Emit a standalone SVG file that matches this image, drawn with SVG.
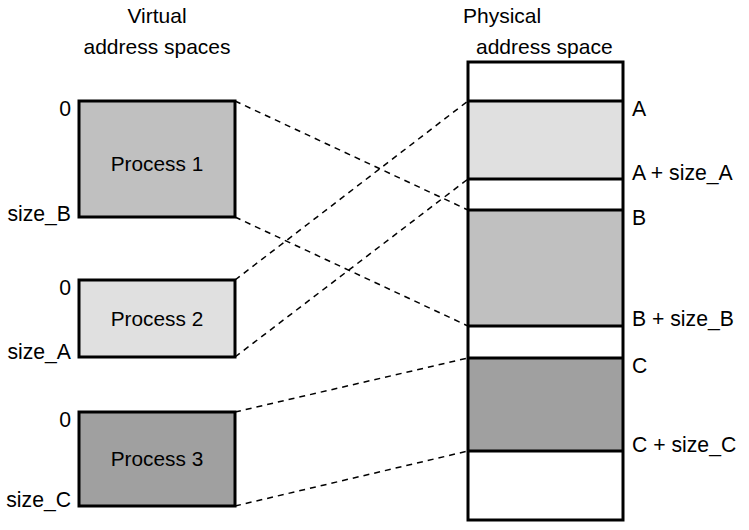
<svg xmlns="http://www.w3.org/2000/svg" width="749" height="530" viewBox="0 0 749 530">
<style>
text{font-family:"Liberation Sans",Arial,sans-serif;fill:#000}
.t{font-size:21px}
.p{font-size:20.8px;text-anchor:middle}
.l{font-size:21.2px}
.r{text-anchor:end}
.box{stroke:#000;stroke-width:3}
.dash{stroke:#000;stroke-width:1.5;stroke-dasharray:6 5;fill:none}
.sep{stroke:#000;stroke-width:3}
</style>
<rect width="749" height="530" fill="#fff"/>
<g id="titles">
<text class="t" x="157" y="23" text-anchor="middle">Virtual</text>
<text class="t" x="157" y="54" text-anchor="middle">address spaces</text>
<text class="t" x="463" y="23">Physical</text>
<text class="t" x="476" y="54">address space</text>
</g>
<g id="connectors">
<line class="dash" x1="235" y1="101" x2="468" y2="210"/>
<line class="dash" x1="235" y1="217" x2="468" y2="326"/>
<line class="dash" x1="235" y1="280" x2="468" y2="101"/>
<line class="dash" x1="235" y1="357" x2="468" y2="179"/>
<line class="dash" x1="235" y1="412" x2="468" y2="358"/>
<line class="dash" x1="235" y1="506" x2="468" y2="451"/>
</g>
<g id="process1">
<rect class="box" x="79" y="101" width="156" height="116" fill="#c0c0c0"/>
<text class="p" x="157" y="171">Process 1</text>
<text class="l r" x="71" y="116">0</text>
<text class="l r" x="71" y="221">size_B</text>
</g>
<g id="process2">
<rect class="box" x="79" y="280" width="156" height="77" fill="#e0e0e0"/>
<text class="p" x="157" y="326">Process 2</text>
<text class="l r" x="71" y="295">0</text>
<text class="l r" x="71" y="359">size_A</text>
</g>
<g id="process3">
<rect class="box" x="79" y="412" width="156" height="94" fill="#a0a0a0"/>
<text class="p" x="157" y="466">Process 3</text>
<text class="l r" x="71" y="427">0</text>
<text class="l r" x="71" y="507">size_C</text>
</g>
<g id="physical">
<rect x="468" y="62" width="155" height="458" fill="#fff"/>
<rect x="468" y="101" width="155" height="78" fill="#e0e0e0"/>
<rect x="468" y="210" width="155" height="116" fill="#c0c0c0"/>
<rect x="468" y="358" width="155" height="93" fill="#a0a0a0"/>
<line class="sep" x1="468" y1="101" x2="623" y2="101"/>
<line class="sep" x1="468" y1="179" x2="623" y2="179"/>
<line class="sep" x1="468" y1="210" x2="623" y2="210"/>
<line class="sep" x1="468" y1="326" x2="623" y2="326"/>
<line class="sep" x1="468" y1="358" x2="623" y2="358"/>
<line class="sep" x1="468" y1="451" x2="623" y2="451"/>
<rect class="box" x="468" y="62" width="155" height="458" fill="none"/>
<text class="l" x="632" y="116">A</text>
<text class="l" x="632" y="180">A + size_A</text>
<text class="l" x="632" y="225">B</text>
<text class="l" x="632" y="326">B + size_B</text>
<text class="l" x="632" y="373">C</text>
<text class="l" x="632" y="452">C + size_C</text>
</g>
</svg>
